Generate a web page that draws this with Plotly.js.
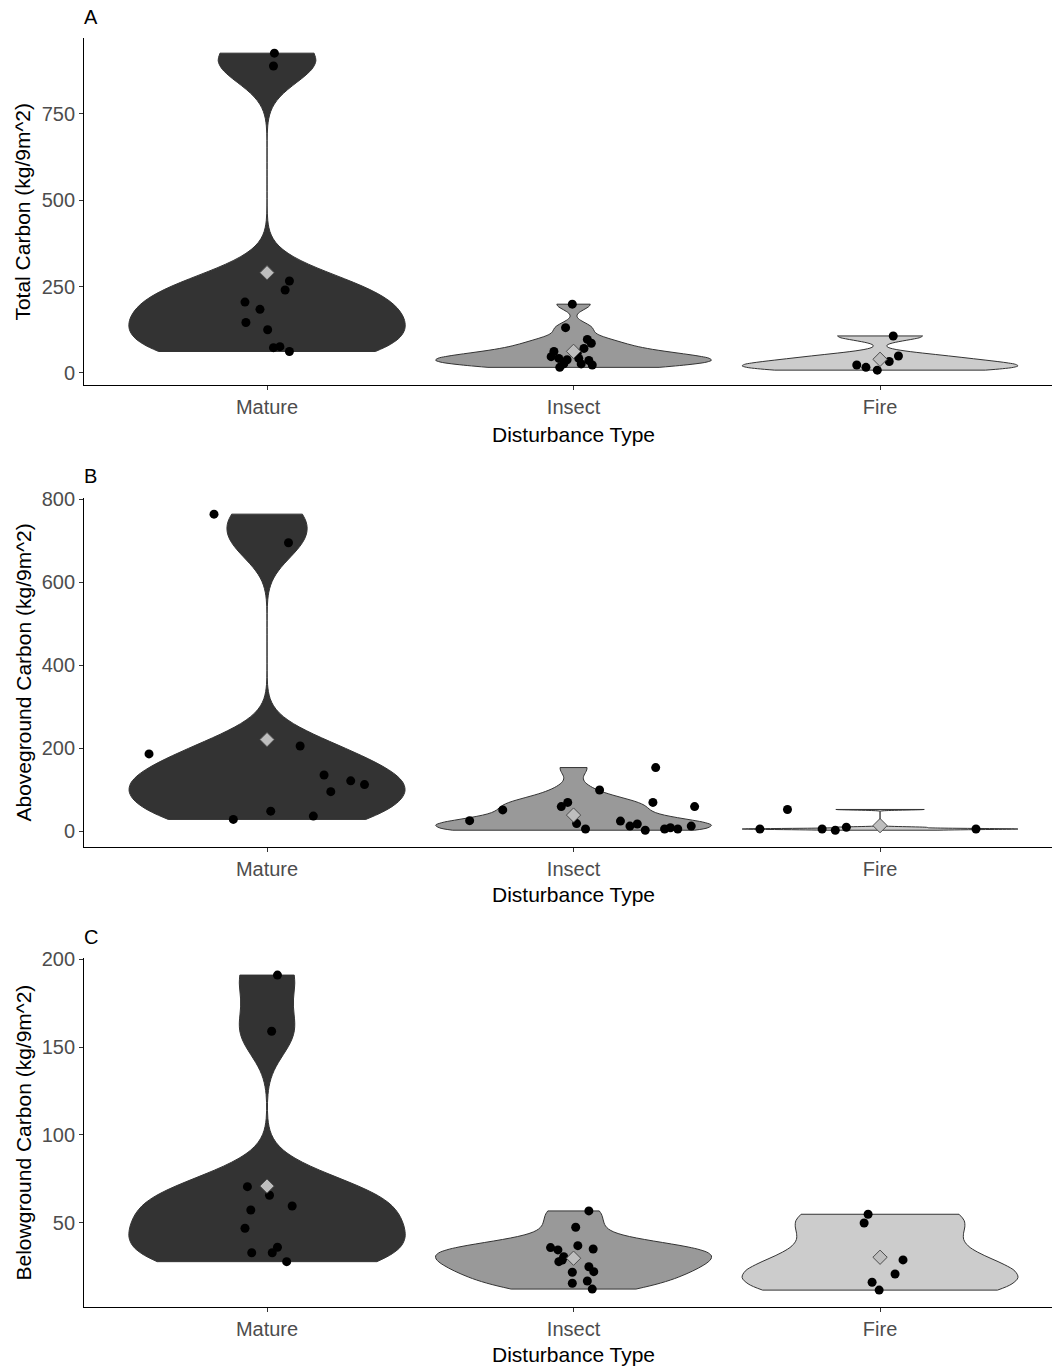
<!DOCTYPE html>
<html>
<head>
<meta charset="utf-8">
<script src="https://cdn.plot.ly/plotly-3.0.1.min.js"></script>
<style>
  html, body { margin: 0; padding: 0; background: #ffffff; }
  #chart { width: 1052px; height: 1371px; }
</style>
</head>
<body>
<div id="chart"></div>
<script>
// Disturbance categories shown on every x axis
const categories = ['Mature', 'Insect', 'Fire'];

// Panel A: total carbon (kg/9m^2) per plot, with horizontal jitter of each dot (category units)
const totalMature = [926, 889, 266, 240, 205, 184, 146, 125, 73, 76, 62];
const totalMatureJitter = [0.024, 0.021, 0.073, 0.059, -0.072, -0.023, -0.069, 0.002, 0.021, 0.042, 0.073];
const totalInsect = [199, 131, 97, 86, 71, 62, 47, 42, 38, 16, 26, 42, 26, 36, 23, 57];
const totalInsectJitter = [-0.004, -0.026, 0.045, 0.058, 0.034, -0.064, -0.073, -0.048, -0.021, -0.045, -0.032, 0.017, 0.025, 0.05, 0.061, 0.012];
const totalFire = [107, 49, 33, 8, 23, 16];
const totalFireJitter = [0.043, 0.06, 0.03, -0.009, -0.076, -0.046];
const totalTicks = [0, 250, 500, 750];

// Panel B: aboveground carbon
const agMature = [764, 695, 205, 186, 135, 121, 112, 95, 48, 36, 28];
const agMatureJitter = [-0.173, 0.070, 0.108, -0.385, 0.186, 0.273, 0.318, 0.208, 0.012, 0.151, -0.110];
const agInsect = [153, 99, 69, 59, 69, 59, 51, 25, 18, 5, 24, 12, 17, 2, 5, 8, 5, 12];
const agInsectJitter = [0.268, 0.085, 0.259, 0.395, -0.019, -0.040, -0.231, -0.339, 0.010, 0.039, 0.153, 0.184, 0.208, 0.234, 0.297, 0.316, 0.340, 0.384];
const agFire = [5, 52, 5, 2, 9, 5];
const agFireJitter = [-0.392, -0.302, -0.189, -0.146, -0.110, 0.313];
const agTicks = [0, 200, 400, 600, 800];

// Panel C: belowground carbon
const bgMature = [191, 159, 70.5, 65.6, 59.5, 57.2, 46.8, 32.9, 32.9, 36, 27.8];
const bgMatureJitter = [0.034, 0.015, -0.064, 0.008, 0.082, -0.053, -0.072, -0.050, 0.017, 0.034, 0.064];
const bgInsect = [56.7, 47.4, 35.8, 34.5, 36.9, 35, 30.6, 27.8, 28.7, 21.8, 24.9, 22.1, 15.5, 16.8, 12.2];
const bgInsectJitter = [0.050, 0.007, -0.075, -0.051, 0.014, 0.064, -0.032, -0.048, -0.037, -0.004, 0.050, 0.066, -0.004, 0.045, 0.061];
const bgFire = [54.8, 49.8, 28.8, 20.8, 16.1, 11.6];
const bgFireJitter = [-0.039, -0.052, 0.075, 0.049, -0.026, -0.003];
const bgTicks = [50, 100, 150, 200];

// R's bw.nrd0 rule of thumb for the kernel bandwidth
function quantile7(sorted, p) {
  const h = (sorted.length - 1) * p;
  const lo = Math.floor(h), hi = Math.ceil(h);
  return sorted[lo] + (h - lo) * (sorted[hi] - sorted[lo]);
}
function bwNrd0(v) {
  const n = v.length;
  const m = v.reduce((a, b) => a + b, 0) / n;
  const sd = Math.sqrt(v.reduce((a, b) => a + (b - m) * (b - m), 0) / (n - 1));
  const s = [...v].sort((a, b) => a - b);
  const iqr = quantile7(s, 0.75) - quantile7(s, 0.25);
  let lo = Math.min(sd, iqr / 1.34);
  if (!lo) lo = sd || Math.abs(s[0]) || 1;
  return 0.9 * lo * Math.pow(n, -0.2);
}
const mean = v => v.reduce((a, b) => a + b, 0) / v.length;

const FONT = 'Liberation Sans, Arial, sans-serif';
const fills = ['#333333', '#999999', '#CCCCCC'];

const panels = [
  { groups: [totalMature, totalInsect, totalFire],
    jitter: [totalMatureJitter, totalInsectJitter, totalFireJitter],
    ticks: totalTicks, range: [-35, 970], domain: [0.7192, 0.9723],
    title: 'Total Carbon (kg/9m^2)', tag: 'A', tagY: 0.9876, titleY: 0.8457, xTitleY: 0.6834 },
  { groups: [agMature, agInsect, agFire],
    jitter: [agMatureJitter, agInsectJitter, agFireJitter],
    ticks: agTicks, range: [-38.5, 803], domain: [0.3822, 0.6368],
    title: 'Aboveground Carbon (kg/9m^2)', tag: 'B', tagY: 0.6528, titleY: 0.5095, xTitleY: 0.3479 },
  { groups: [bgMature, bgInsect, bgFire],
    jitter: [bgMatureJitter, bgInsectJitter, bgFireJitter],
    ticks: bgTicks, range: [2, 200.7], domain: [0.0467, 0.3012],
    title: 'Belowground Carbon (kg/9m^2)', tag: 'C', tagY: 0.3166, titleY: 0.1740, xTitleY: 0.0117 }
];

const traces = [];
const layout = {
  width: 1052, height: 1371,
  margin: { l: 0, r: 0, t: 0, b: 0 },
  paper_bgcolor: '#ffffff', plot_bgcolor: '#ffffff',
  showlegend: false,
  violinmode: 'overlay',
  font: { family: FONT },
  annotations: []
};

panels.forEach((p, pi) => {
  const sfx = pi === 0 ? '' : String(pi + 1);
  const xa = 'x' + sfx, ya = 'y' + sfx;

  // violins (trimmed to data range, each scaled to the same maximum width)
  p.groups.forEach((vals, g) => {
    traces.push({
      type: 'violin', x: vals.map(() => g), y: vals, xaxis: xa, yaxis: ya,
      width: 0.9, scalemode: 'width', spanmode: 'hard', bandwidth: bwNrd0(vals),
      points: false, box: { visible: false }, meanline: { visible: false },
      fillcolor: fills[g], line: { color: '#333333', width: 1 },
      hoverinfo: 'skip', showlegend: false
    });
  });
  // jittered observations
  p.groups.forEach((vals, g) => {
    traces.push({
      type: 'scatter', mode: 'markers', xaxis: xa, yaxis: ya,
      x: vals.map((_, k) => g + p.jitter[g][k]), y: vals,
      marker: { color: '#000000', size: 9 }, cliponaxis: false,
      hoverinfo: 'y', showlegend: false
    });
  });
  // group means
  traces.push({
    type: 'scatter', mode: 'markers', xaxis: xa, yaxis: ya,
    x: [0, 1, 2], y: p.groups.map(mean),
    marker: { symbol: 'diamond', size: 11, color: '#BEBEBE', line: { color: '#4D4D4D', width: 1 } },
    cliponaxis: false, hoverinfo: 'y', showlegend: false
  });

  layout['xaxis' + sfx] = {
    domain: [0.0799, 1], range: [-0.597, 2.561], anchor: ya,
    tickmode: 'array', tickvals: [0, 1, 2], ticktext: categories,
    showline: true, linecolor: '#000000', linewidth: 1,
    ticks: 'outside', ticklen: 4, tickwidth: 1, tickcolor: '#333333',
    tickfont: { family: FONT, size: 20, color: '#4D4D4D' },
    showgrid: false, zeroline: false
  };
  layout['yaxis' + sfx] = {
    domain: p.domain, range: p.range, anchor: xa,
    tickmode: 'array', tickvals: p.ticks, ticktext: p.ticks.map(String),
    showline: true, linecolor: '#000000', linewidth: 1,
    ticks: 'outside', ticklen: 4, tickwidth: 1, tickcolor: '#333333',
    tickfont: { family: FONT, size: 20, color: '#4D4D4D' },
    showgrid: false, zeroline: false
  };

  layout.annotations.push(
    { text: p.tag, xref: 'paper', yref: 'paper', x: 0.0865, y: p.tagY,
      xanchor: 'center', yanchor: 'middle', showarrow: false,
      font: { family: FONT, size: 20, color: '#000000' } },
    { text: p.title, xref: 'paper', yref: 'paper', x: 0.0219, y: p.titleY, textangle: -90,
      xanchor: 'center', yanchor: 'middle', showarrow: false,
      font: { family: FONT, size: 21, color: '#000000' } },
    { text: 'Disturbance Type', xref: 'paper', yref: 'paper', x: 0.5447, y: p.xTitleY,
      xanchor: 'center', yanchor: 'middle', showarrow: false,
      font: { family: FONT, size: 21, color: '#000000' } }
  );
});

Plotly.newPlot('chart', traces, layout, { staticPlot: true, displayModeBar: false });
</script>
</body>
</html>
